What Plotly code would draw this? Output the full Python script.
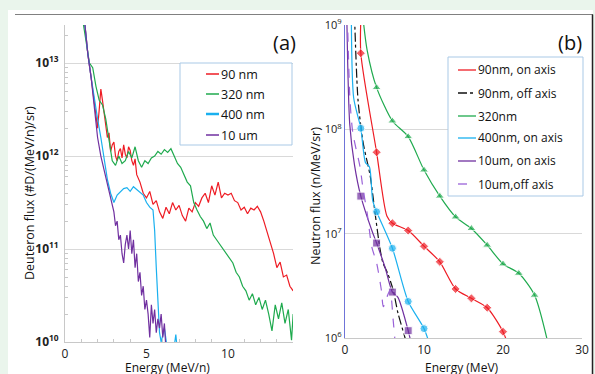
import plotly.graph_objects as go

W, H = 595, 374

# ---------------- Panel (a): deuteron spectra (log10 flux) ----------------
a_red_E = [1.2,1.4,1.6,1.8,2.0,2.1,2.2,2.3,2.4,2.5,2.6,2.7,2.8,2.9,3.0,3.1,3.2,3.3,3.4,3.5,3.6,3.7,3.8,3.9,4.0,4.1,4.2,4.3,4.4,4.6,4.8,5.0,
           5.2,5.4,5.6,5.8,6.0,6.2,6.4,6.6,6.8,7.0,7.2,7.4,7.6,7.8,8.0,8.2,8.4,8.6,8.8,9.0,
           9.2,9.4,9.6,9.8,10.0,10.2,10.4,10.6,10.8,11.0,11.2,11.4,11.6,11.8,12.0,12.2,12.4,
           12.6,12.8,13.0,13.2,13.4,13.6,13.8,14.0]
a_red_logF = [13.45,13.1,12.85,12.55,12.3,12.5,12.72,12.6,12.45,12.3,12.2,12.25,12.05,12.12,12.15,12.0,11.95,12.05,12.08,11.98,12.12,12.02,11.98,12.1,12.06,11.95,11.9,11.97,11.8,11.72,11.6,11.55,
              11.62,11.48,11.52,11.4,11.33,11.45,11.38,11.5,11.42,11.47,11.36,11.3,11.44,11.4,11.5,11.46,11.55,11.6,11.5,11.68,
              11.58,11.72,11.55,11.6,11.58,11.6,11.52,11.5,11.42,11.45,11.38,11.44,11.42,11.46,11.4,11.3,11.18,
              11.05,10.95,10.8,10.86,10.7,10.72,10.6,10.55]

a_grn_E = [1.1,1.3,1.5,1.7,1.9,2.1,2.3,2.5,2.7,2.9,3.1,3.3,3.5,3.7,3.9,4.1,4.3,4.5,4.7,4.9,
           5.1,5.3,5.5,5.7,5.9,6.1,6.3,6.5,6.7,6.9,7.1,7.3,7.5,7.7,7.9,8.1,8.3,8.5,8.7,8.9,
           9.1,9.3,9.5,9.7,9.9,10.1,10.3,10.5,10.7,10.9,11.1,11.3,11.5,11.7,11.9,12.1,12.3,
           12.5,12.7,12.9,13.1,13.3,13.5,13.7,13.9,14.0]
a_grn_logF = [13.45,13.2,13.0,12.95,12.75,12.6,12.55,12.4,12.15,11.95,11.9,12.0,11.92,11.95,12.05,11.98,12.1,11.95,11.88,11.95,
              11.92,11.98,12.0,12.05,12.02,12.07,12.04,12.08,12.0,11.92,11.88,11.8,11.72,11.68,11.5,11.42,11.35,11.3,11.22,11.28,
              11.15,11.1,11.05,11.0,10.95,10.9,10.85,10.75,10.7,10.6,10.55,10.45,10.52,10.4,10.48,10.35,10.45,
              10.3,10.12,10.4,10.25,10.42,10.2,10.35,10.02,10.3]

a_cyan_E = [1.2,1.4,1.6,1.8,2.0,2.2,2.4,2.6,2.8,3.0,3.2,3.4,3.6,3.8,4.0,4.2,4.4,4.6,4.8,5.0,
            5.2,5.4,5.5,5.6,5.7,5.8,5.9,6.1,6.3,6.7,6.8,6.9]
a_cyan_logF = [13.45,13.1,12.85,12.6,12.4,12.2,11.95,11.75,11.6,11.5,11.58,11.62,11.65,11.66,11.62,11.67,11.64,11.62,11.58,11.5,
               11.45,11.42,11.2,10.8,10.4,10.1,10.0,10.15,9.9,9.95,10.08,9.9]

a_pur_E = [1.2,1.4,1.6,1.8,2.0,2.2,2.4,2.6,2.8,3.0,3.1,3.2,3.3,3.4,3.5,3.6,3.7,3.8,3.9,4.0,
           4.1,4.2,4.3,4.4,4.5,4.6,4.7,4.8,4.9,5.0,5.1,5.2,5.3,5.4,5.5,5.6,5.7,5.8,5.9,6.0,6.1,6.2]
a_pur_logF = [13.45,13.1,12.85,12.55,12.2,12.0,11.85,11.72,11.55,11.4,11.25,11.3,11.1,11.15,10.95,10.85,11.05,11.15,11.0,11.2,
              10.95,11.1,10.8,10.95,10.65,10.75,10.5,10.6,10.35,10.45,10.3,10.05,10.4,10.2,10.35,10.1,10.25,10.15,10.3,10.05,10.2,9.9]

a_names = ["90 nm", "320 nm", "400 nm", "10 um"]

# ---------------- Panel (b): neutron spectra (log10 flux) ----------------
# (marker flag: 1 = data point shown with a marker, 0 = curve point)
b_red_E = [2.05, 2, 4, 5.3, 6, 8, 10, 12, 14, 16, 18, 20, 21]
b_red_logF = [9.15, 8.73, 7.78, 7.17, 7.10, 7.03, 6.88, 6.73, 6.47, 6.38, 6.29, 6.06, 5.85]
b_red_mk = [0, 1, 1, 0, 1, 1, 1, 1, 1, 1, 1, 1, 0]

b_blk_E = [1.2, 1.65, 2.3, 3.2, 3.8, 4.4, 4.8, 5.4, 6.1, 6.7, 7.6, 8.0]
b_blk_logF = [9.1, 8.28, 7.87, 7.55, 7.20, 6.87, 6.72, 6.62, 6.46, 6.24, 6.0, 5.85]

b_grn_E = [2.3, 2.8, 4, 6, 8, 10, 12, 14, 16, 18, 20, 22, 24, 26]
b_grn_logF = [9.05, 8.76, 8.40, 8.08, 7.93, 7.61, 7.36, 7.16, 7.05, 6.89, 6.71, 6.62, 6.41, 5.85]
b_grn_mk = [0, 0, 1, 1, 1, 1, 1, 1, 1, 1, 1, 1, 1, 0]

b_cyan_E = [0.8, 1.1, 2, 2.6, 3.1, 3.5, 4, 6, 8, 10, 11.5]
b_cyan_logF = [9.1, 8.3, 8.01, 7.68, 7.64, 7.32, 7.21, 6.86, 6.35, 6.09, 5.75]
b_cyan_mk = [0, 0, 1, 0, 0, 0, 1, 1, 1, 1, 0]

b_pur_E = [0.2, 0.6, 1.2, 2, 3.4, 4, 5.06, 6, 6.7, 8, 8.8]
b_pur_logF = [9.2, 8.05, 7.66, 7.36, 7.03, 6.91, 6.68, 6.44, 6.39, 6.07, 5.8]
b_pur_mk = [0, 0, 0, 1, 0, 1, 0, 1, 0, 1, 0]

b_pdash_E = [0.3, 0.63, 1.0, 1.9, 2.3, 2.8, 3.4, 4.0, 4.6, 4.85, 5.3, 5.7, 6.1, 6.3, 6.5]
b_pdash_logF = [9.1, 8.28, 7.96, 7.64, 7.42, 7.20, 6.87, 6.72, 6.46, 6.30, 6.39, 6.46, 6.17, 6.0, 5.85]

b_names = ["90nm, on axis", "90nm, off axis", "320nm", "400nm, on axis", "10um, on axis", "10um,off axis"]

RED, GRN, CYAN, PUR = "#ee1c24", "#1faa4e", "#1ab0ef", "#7030a0"
PDASH = "#9a62d8"
FONT = "Open Sans"

def px(x):
    return x / W

def py(y):
    return 1 - y / H

fig = go.Figure()

for E, L, c in [(a_red_E, a_red_logF, RED), (a_grn_E, a_grn_logF, GRN),
                (a_cyan_E, a_cyan_logF, CYAN), (a_pur_E, a_pur_logF, PUR)]:
    fig.add_trace(go.Scatter(x=E, y=[10 ** v for v in L], mode="lines",
                             line=dict(color=c, width=1.2), xaxis="x", yaxis="y",
                             showlegend=False))

bspec = [
    (b_red_E, b_red_logF, b_red_mk, RED, "solid", "diamond", 7),
    (b_blk_E, b_blk_logF, None, "#111111", "dashdot", None, 0),
    (b_grn_E, b_grn_logF, b_grn_mk, GRN, "solid", "triangle-up", 8),
    (b_cyan_E, b_cyan_logF, b_cyan_mk, CYAN, "solid", "circle", 8),
    (b_pur_E, b_pur_logF, b_pur_mk, PUR, "solid", "square", 8),
    (b_pdash_E, b_pdash_logF, None, PDASH, "dash", None, 0),
]
for E, L, mk, c, dash, sym, ms in bspec:
    mode = "lines+markers" if sym else "lines"
    sizes = [ms * m for m in mk] if mk else 0
    fig.add_trace(go.Scatter(x=E, y=[10 ** v for v in L], mode=mode,
                             line=dict(color=c, width=1.2, dash=dash, shape="spline", smoothing=0.7),
                             marker=dict(symbol=sym or "circle", size=sizes, color=c),
                             xaxis="x2", yaxis="y2", showlegend=False))

a_minor_x = [1, 2, 3, 4, 6, 7, 8, 9, 11, 12, 13]
a_minor_y = [m * 10 ** d for d in (10, 11, 12, 13) for m in range(2, 10) if m * 10 ** d < 10 ** 13.41]

axis_common = dict(showline=True, linecolor="#c8c8c8", linewidth=1, zeroline=False, automargin=False,
                   tickfont=dict(family=FONT, size=12, color="#222"))

fig.update_layout(
    template="none",
    width=W, height=H, autosize=False,
    margin=dict(l=0, r=0, t=0, b=0, pad=0, autoexpand=False),
    paper_bgcolor="white", plot_bgcolor="rgba(0,0,0,0)", showlegend=False,
    xaxis=dict(domain=[px(65), px(293)], range=[0, 13.99], anchor="y",
               tickmode="array", tickvals=[0, 5, 10], ticks="", showgrid=False, ticklabelstandoff=1,
               minor=dict(tickmode="array", tickvals=a_minor_x, ticks="inside", ticklen=3,
                          tickcolor="#c8c8c8", showgrid=False),
               **axis_common),
    yaxis=dict(domain=[py(342), py(25)], type="log", range=[10, 13.41], anchor="x",
               tickmode="array", tickvals=[1e10, 1e11, 1e12, 1e13],
               ticktext=["<b>10<sup>10</sup></b>", "<b>10<sup>11</sup></b>", "<b>10<sup>12</sup></b>", "<b>10<sup>13</sup></b>"],
               ticks="", showgrid=True, gridcolor="#d9d9d9", gridwidth=1, ticklabelstandoff=3,
               minor=dict(tickmode="array", tickvals=a_minor_y, ticks="inside", ticklen=3,
                          tickcolor="#c8c8c8", showgrid=False),
               **axis_common),
    xaxis2=dict(domain=[px(345), px(582)], range=[0, 30], anchor="y2", ticklabelstandoff=1,
                tickmode="array", tickvals=[0, 10, 20, 30], ticks="", showgrid=False, **axis_common),
    yaxis2=dict(domain=[py(338), py(25)], type="log", range=[6, 9], anchor="x2",
                tickmode="array", tickvals=[1e6, 1e7, 1e8, 1e9],
                ticktext=["10<sup>6</sup>", "10<sup>7</sup>", "10<sup>8</sup>", "10<sup>9</sup>"],
                ticks="", showgrid=True, gridcolor="#d9d9d9", gridwidth=1, automargin=False,
                showline=True, linecolor="#6f74d8", linewidth=1.2, zeroline=False,
                tickfont=dict(family=FONT, size=11, color="#222")),
)

shapes = []
shapes.append(dict(type="rect", xref="paper", yref="paper", x0=0, x1=1, y0=0, y1=1,
                   fillcolor="#eaf5ec", line=dict(width=0), layer="below"))
shapes.append(dict(type="rect", xref="paper", yref="paper", x0=px(8), x1=px(593), y0=0, y1=py(10),
                   fillcolor="white", line=dict(width=0), layer="below"))
shapes.append(dict(type="line", xref="paper", yref="paper", x0=px(15), x1=px(593), y0=py(14.5), y1=py(14.5),
                   line=dict(color="#808080", width=1.2)))
shapes.append(dict(type="line", xref="paper", yref="paper", x0=px(592.5), x1=px(592.5), y0=0, y1=py(14.5),
                   line=dict(color="#222222", width=1.5)))
shapes.append(dict(type="rect", xref="paper", yref="paper", x0=px(180), x1=px(292), y0=py(145), y1=py(63),
                   fillcolor="white", line=dict(color="#a9c9e6", width=1)))
shapes.append(dict(type="rect", xref="paper", yref="paper", x0=px(448), x1=px(583), y0=py(196), y1=py(57),
                   fillcolor="white", line=dict(color="#a9c9e6", width=1)))

ann = []
a_cols = [RED, GRN, CYAN, PUR]
a_rows = [74, 94, 114, 135]
for name, c, yy in zip(a_names, a_cols, a_rows):
    shapes.append(dict(type="line", xref="paper", yref="paper", x0=px(206), x1=px(219), y0=py(yy), y1=py(yy),
                       line=dict(color=c, width=1.5 if c != CYAN else 2.5)))
    ann.append(dict(text=name, x=px(219), y=py(yy), xref="paper", yref="paper", xanchor="left", yanchor="middle",
                    showarrow=False, font=dict(family=FONT, size=12.5, color="#111")))

b_rows = [70, 93, 116, 138, 161, 184]
b_leg = [(RED, "solid", "diamond", 7), ("#111111", "dashdot", None, 0), (GRN, "solid", "triangle-up", 7),
         (CYAN, "solid", "circle", 7), (PUR, "solid", "square", 7), (PDASH, "dash", None, 0)]
for name, (c, dash, sym, ms), yy in zip(b_names, b_leg, b_rows):
    shapes.append(dict(type="line", xref="paper", yref="paper", x0=px(458), x1=px(476), y0=py(yy), y1=py(yy),
                       line=dict(color=c, width=1.3, dash=dash)))
    ann.append(dict(text=name, x=px(476), y=py(yy), xref="paper", yref="paper", xanchor="left", yanchor="middle",
                    showarrow=False, font=dict(family=FONT, size=12, color="#111")))
    if sym:
        ex = (467 - 345) / (582 - 345) * 30
        ly = 9 - (yy - 25) / (338 - 25) * 3
        fig.add_trace(go.Scatter(x=[ex], y=[10 ** ly], xaxis="x2", yaxis="y2", mode="markers",
                                 marker=dict(symbol=sym, size=ms, color=c), showlegend=False,
                                 hoverinfo="skip", cliponaxis=False))

def label(text, x, y, size, angle=0):
    ann.append(dict(text=text, x=px(x), y=py(y), xref="paper", yref="paper", showarrow=False,
                    xanchor="center", yanchor="middle", textangle=angle,
                    font=dict(family=FONT, size=size, color="#111")))

label("(a)", 284, 42, 20)
label("(b)", 570, 42, 20)
label("Deuteron flux (#D/(MeV/n)/sr)", 30, 193, 12.5, -90)
label("Energy (MeV/n)", 167, 367, 12)
label("Neutron flux (n/MeV/sr)", 315, 196, 12.5, -90)
label("Energy (MeV)", 462, 367, 12)

fig.update_layout(shapes=shapes, annotations=ann)
fig.write_html("out.html")
